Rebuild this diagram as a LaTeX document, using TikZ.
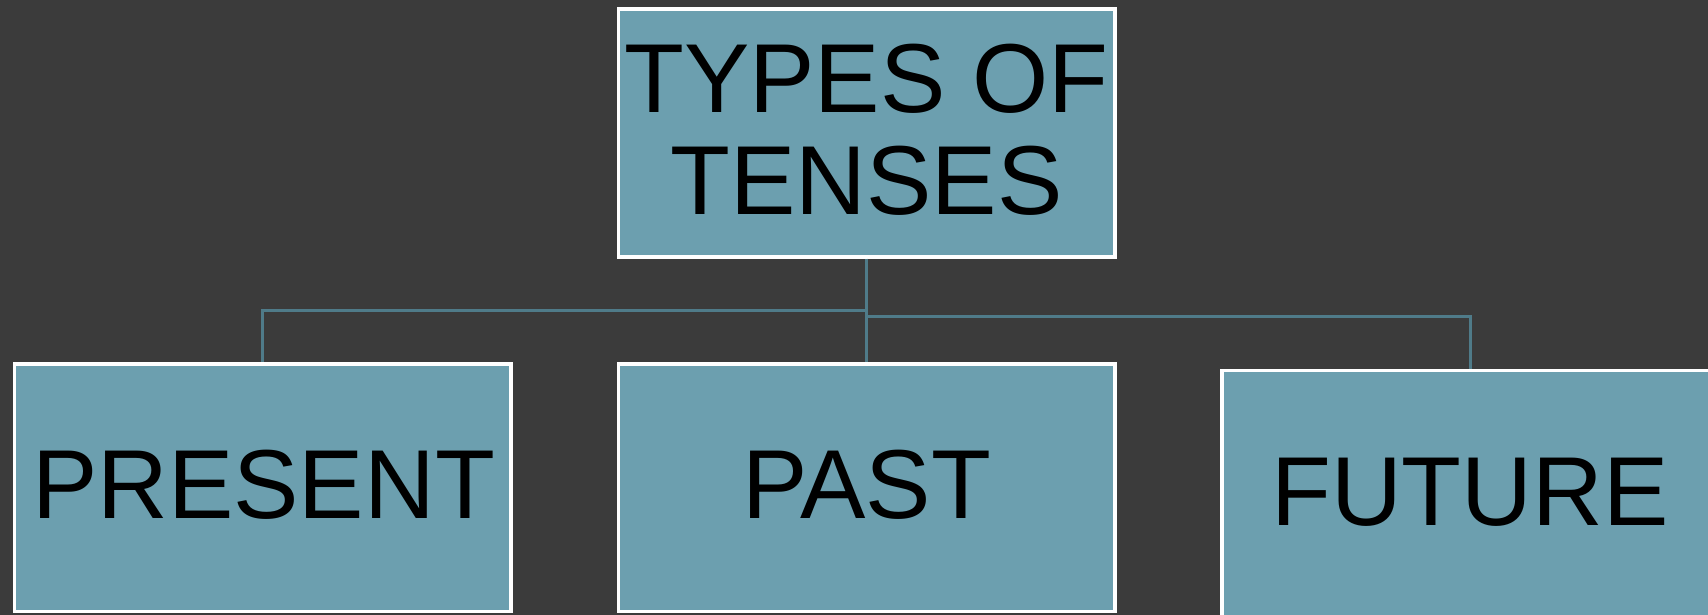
\documentclass[tikz,border=0pt]{standalone}
\usepackage{fontspec}
\setmainfont{Liberation Sans}
\definecolor{bgdark}{HTML}{3B3B3B}
\definecolor{boxfill}{HTML}{6C9FAF}
\definecolor{linkteal}{HTML}{4F7B89}
\tikzset{
  tensebox/.style={draw=white, line width=3.5pt, fill=boxfill, rectangle,
    minimum width=496.5pt, minimum height=247.5pt, inner sep=0pt},
  tenselabel/.style={anchor=base, inner sep=0pt, text=black,
    font=\fontsize{98}{102}\selectfont},
  link/.style={draw=linkteal, line width=3pt}
}
\begin{document}
\begin{tikzpicture}[x=1pt, y=-1pt]
  \fill[bgdark] (0,0) rectangle (1708,615);
  \useasboundingbox (0,0) rectangle (1708,615);

  % boxes
  \node[tensebox] (top) at (866.5,133) {};
  \node[tensebox] (present) at (262.5,487.5) {};
  \node[tensebox] (past) at (866.5,487.5) {};
  \node[tensebox] (future) at (1470,494) {};

  % connectors
  \draw[link] (top.south) -- (past.north);
  \coordinate (jl) at (866.5,310.5);
  \coordinate (jr) at (866.5,316);
  \draw[link] (jl) -| (present.north);
  \draw[link] (jr) -| (future.north);

  % labels
  \node[tenselabel] (t1) at (866.5,112.5) {TYPES OF};
  \node[tenselabel] (t2) at (866.5,214.5) {TENSES};
  \node[tenselabel] (l1) at (263.5,518.5) {PRESENT};
  \node[tenselabel] (l2) at (866.5,518.5) {PAST};
  \node[tenselabel] (l3) at (1470,525) {FUTURE};
\end{tikzpicture}
\end{document}
